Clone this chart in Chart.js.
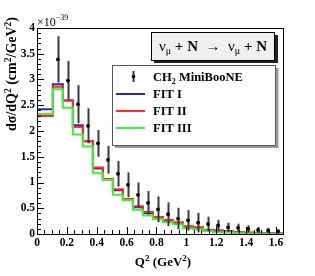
<!DOCTYPE html>
<html>
<head>
<meta charset="utf-8">
<script src="https://cdn.jsdelivr.net/npm/chart.js@4.4.1/dist/chart.umd.min.js"></script>
<style>
  html, body { margin: 0; padding: 0; background: #fff; }
</style>
</head>
<body>
<canvas id="xsecChart" width="315" height="276"></canvas>
<script>
// Q2 bin edges (GeV^2): one wide bin from 0, then the 23 data bins
const binEdges = [0, 0.106, 0.173, 0.240, 0.307, 0.374, 0.441, 0.508, 0.575, 0.642, 0.709, 0.776, 0.843,
  0.910, 0.977, 1.044, 1.111, 1.178, 1.245, 1.312, 1.379, 1.446, 1.513, 1.580, 1.647];

// MiniBooNE points (units of 1e-39 cm2/GeV2)
const dataQ2 = [0.140, 0.207, 0.274, 0.341, 0.408, 0.475, 0.542, 0.609, 0.676, 0.743, 0.810, 0.877,
  0.944, 1.011, 1.078, 1.145, 1.212, 1.279, 1.346, 1.413, 1.480, 1.547, 1.614];
const dataXsec = [3.39, 2.98, 2.52, 2.10, 1.76, 1.44, 1.17, 0.955, 0.76, 0.605, 0.48, 0.385,
  0.30, 0.265, 0.22, 0.195, 0.165, 0.13, 0.12, 0.10, 0.078, 0.068, 0.05];
const dataErr = [0.45, 0.38, 0.37, 0.34, 0.26, 0.27, 0.25, 0.24, 0.24, 0.23, 0.25, 0.23,
  0.21, 0.20, 0.19, 0.14, 0.11, 0.09, 0.08, 0.07, 0.06, 0.05, 0.04];

// fit histograms, one value per bin
const fit1 = [2.42, 2.91, 2.59, 2.11, 1.80, 1.27, 1.06, 0.85, 0.67, 0.52, 0.41, 0.32,
  0.25, 0.21, 0.14, 0.12, 0.075, 0.06, 0.045, 0.03, 0.025, 0.02, 0.015, 0.012];
const fit2 = [2.29, 2.86, 2.59, 2.08, 1.80, 1.29, 1.07, 0.87, 0.68, 0.54, 0.425, 0.33,
  0.27, 0.23, 0.15, 0.13, 0.08, 0.075, 0.058, 0.035, 0.03, 0.025, 0.02, 0.015];
const fit3 = [2.33, 2.81, 2.45, 1.93, 1.70, 1.18, 1.05, 0.76, 0.655, 0.47, 0.36, 0.29,
  0.23, 0.19, 0.11, 0.09, 0.058, 0.035, 0.028, 0.013, 0.01, 0.008, 0.006, 0.005];

const xTicks = [0, 0.2, 0.4, 0.6, 0.8, 1, 1.2, 1.4, 1.6];
const yTicks = [0, 0.5, 1, 1.5, 2, 2.5, 3, 3.5, 4];

const BLUE = "#2a2ab0", RED = "#ff2a2a", GREEN = "#3cf03c";
const SERIF = "'Liberation Serif', 'DejaVu Serif', serif";

// histogram outline: value of bin i held from edge i to edge i+1
const stepPoints = vals => binEdges.map((x, i) => ({ x, y: vals[Math.min(i, vals.length - 1)] }));

function fitSet(vals, color, order) {
  return {
    data: stepPoints(vals),
    showLine: true,
    stepped: "before",
    borderColor: color,
    borderWidth: 2,
    pointRadius: 0,
    fill: false,
    order: order
  };
}

// draw a run of text pieces, some raised or lowered
function richWidth(ctx, parts) {
  let w = 0;
  parts.forEach(p => { ctx.font = p.f; w += ctx.measureText(p.t).width; });
  return w;
}
function drawRich(ctx, parts, x, y) {
  parts.forEach(p => {
    ctx.font = p.f;
    ctx.fillText(p.t, x, y + (p.dy || 0));
    x += ctx.measureText(p.t).width;
  });
}

const rootDecor = {
  id: "rootDecor",
  beforeDatasetDraw(chart, args) {
    if (args.index !== 0) return;
    const ctx = chart.ctx, xs = chart.scales.x, ys = chart.scales.y;
    ctx.save();
    ctx.strokeStyle = "#3a3a3a";
    ctx.lineWidth = 2;
    dataQ2.forEach((q, i) => {
      const px = Math.round(xs.getPixelForValue(q)) + 0.5;
      ctx.beginPath();
      ctx.moveTo(px, ys.getPixelForValue(dataXsec[i] + dataErr[i]));
      ctx.lineTo(px, ys.getPixelForValue(Math.max(0, dataXsec[i] - dataErr[i])));
      ctx.stroke();
    });
    ctx.restore();
  },
  afterDraw(chart) {
    const ctx = chart.ctx, a = chart.chartArea, xs = chart.scales.x, ys = chart.scales.y;
    ctx.save();

    // frame
    ctx.strokeStyle = "#000";
    ctx.lineWidth = 1;
    ctx.strokeRect(Math.round(a.left) + 0.5, Math.round(a.top) + 0.5,
      Math.round(a.right - a.left), Math.round(a.bottom - a.top));

    // inward ticks, ROOT style
    ctx.beginPath();
    for (let v = 0; v <= 1.6501; v += 0.05) {
      const px = Math.round(xs.getPixelForValue(v)) + 0.5;
      const major = Math.abs(v / 0.2 - Math.round(v / 0.2)) < 1e-6;
      ctx.moveTo(px, a.bottom);
      ctx.lineTo(px, a.bottom - (major ? 7 : 4));
    }
    for (let v = 0; v <= 4.0001; v += 0.1) {
      const py = Math.round(ys.getPixelForValue(v)) + 0.5;
      const major = Math.abs(v / 0.5 - Math.round(v / 0.5)) < 1e-6;
      ctx.moveTo(a.left, py);
      ctx.lineTo(a.left + (major ? 7 : 4), py);
    }
    ctx.stroke();

    ctx.fillStyle = "#000";
    ctx.textBaseline = "alphabetic";

    // exponent label
    drawRich(ctx, [
      { t: "×10", f: "12px " + SERIF },
      { t: "−39", f: "8px " + SERIF, dy: -6 }
    ], 37, 26);

    // axis titles
    const bf = "bold 13px " + SERIF, sf = "bold 9px " + SERIF;
    const xTitle = [
      { t: "Q", f: bf }, { t: "2", f: sf, dy: -5 }, { t: " (GeV", f: bf }, { t: "2", f: sf, dy: -5 }, { t: ")", f: bf }
    ];
    drawRich(ctx, xTitle, 163 - richWidth(ctx, xTitle) / 2, 266);

    const ybf = "bold 14px " + SERIF, ysf = "bold 9.5px " + SERIF;
    const yTitle = [
      { t: "dσ/dQ", f: ybf }, { t: "2", f: ysf, dy: -5 }, { t: " (cm", f: ybf }, { t: "2", f: ysf, dy: -5 },
      { t: "/GeV", f: ybf }, { t: "2", f: ysf, dy: -5 }, { t: ")", f: ybf }
    ];
    ctx.save();
    ctx.translate(16, 74);
    ctx.rotate(-Math.PI / 2);
    drawRich(ctx, yTitle, -richWidth(ctx, yTitle) / 2, 0);
    ctx.restore();

    // process box with shadow
    ctx.fillStyle = "#222";
    ctx.fillRect(154, 35, 124, 28);
    ctx.fillStyle = "#f0f0f0";
    ctx.fillRect(151.5, 32.5, 123, 28);
    ctx.strokeStyle = "#000";
    ctx.strokeRect(151.5, 32.5, 123, 28);
    ctx.fillStyle = "#000";
    const rf = "15px " + SERIF, bbf = "bold 15px " + SERIF, mf = "10px " + SERIF;
    const proc = [
      { t: "ν", f: rf }, { t: "μ", f: mf, dy: 3 }, { t: " + N ", f: bbf }, { t: " → ", f: rf },
      { t: " ν", f: rf }, { t: "μ", f: mf, dy: 3 }, { t: " + N", f: bbf }
    ];
    drawRich(ctx, proc, 213 - richWidth(ctx, proc) / 2, 51);

    // legend box with shadow
    ctx.fillStyle = "#9a9a9a";
    ctx.fillRect(115, 68, 163.5, 80);
    ctx.fillStyle = "#fff";
    ctx.fillRect(112.5, 65.5, 163, 80);
    ctx.strokeStyle = "#555";
    ctx.strokeRect(112.5, 65.5, 163, 80);

    // legend marks
    ctx.strokeStyle = "#3a3a3a";
    ctx.lineWidth = 2;
    ctx.beginPath();
    ctx.moveTo(133.5, 71);
    ctx.lineTo(133.5, 82);
    ctx.stroke();
    ctx.fillStyle = "#000";
    ctx.beginPath();
    ctx.arc(133.5, 76.5, 1.8, 0, Math.PI * 2);
    ctx.fill();
    [[BLUE, 94], [RED, 111], [GREEN, 128]].forEach(([c, y]) => {
      ctx.strokeStyle = c;
      ctx.beginPath();
      ctx.moveTo(116, y);
      ctx.lineTo(145, y);
      ctx.stroke();
    });

    const lf = "bold 12.5px " + SERIF, lsf = "bold 8px " + SERIF;
    ctx.fillStyle = "#000";
    drawRich(ctx, [{ t: "CH", f: lf }, { t: "2", f: lsf, dy: 3 }, { t: " MiniBooNE", f: lf }], 153, 80.5);
    ctx.font = lf;
    ctx.fillText("FIT I", 153, 98);
    ctx.fillText("FIT II", 153, 115);
    ctx.fillText("FIT III", 153, 132);

    ctx.restore();
  }
};

const xsecChart = new Chart(document.getElementById("xsecChart"), {
  type: "scatter",
  data: {
    datasets: [
      {
        data: dataQ2.map((x, i) => ({ x, y: dataXsec[i] })),
        pointRadius: 1.9,
        pointBackgroundColor: "#000",
        pointBorderWidth: 0,
        order: 0
      },
      fitSet(fit3, GREEN, 1),
      fitSet(fit2, RED, 2),
      fitSet(fit1, BLUE, 3)
    ]
  },
  options: {
    responsive: false,
    animation: false,
    devicePixelRatio: 1,
    layout: { padding: { left: 0, right: 32, top: 28, bottom: 0 } },
    plugins: { legend: { display: false }, tooltip: { enabled: false } },
    scales: {
      x: {
        type: "linear",
        min: 0,
        max: 1.647,
        afterFit: s => { s.height = 42; },
        afterBuildTicks: s => { s.ticks = xTicks.map(v => ({ value: v })); },
        grid: { display: false, drawTicks: false },
        border: { display: false },
        ticks: {
          padding: 2,
          color: "#000",
          font: { family: SERIF, size: 11.5, weight: "bold" },
          callback: v => String(v)
        }
      },
      y: {
        type: "linear",
        min: 0,
        max: 4,
        afterFit: s => { s.width = 37; },
        afterBuildTicks: s => { s.ticks = yTicks.map(v => ({ value: v })); },
        grid: { display: false, drawTicks: false },
        border: { display: false },
        ticks: {
          padding: 2,
          color: "#000",
          font: { family: SERIF, size: 11.5, weight: "bold" },
          callback: v => String(v)
        }
      }
    }
  },
  plugins: [rootDecor]
});
</script>
</body>
</html>
